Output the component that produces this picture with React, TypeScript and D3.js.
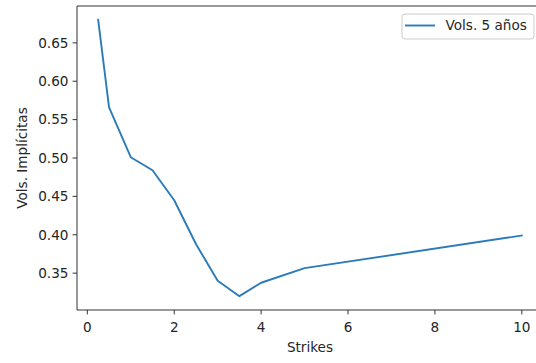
import React from "react";
import * as d3 from "d3";

const strikes = [0.25, 0.5, 1, 1.5, 2, 2.5, 3, 3.5, 4, 5, 10];
const vols = [0.68, 0.566, 0.501, 0.484, 0.445, 0.388, 0.34, 0.32, 0.3375, 0.3565, 0.399];
const xTicks = [0, 2, 4, 6, 8, 10];
const yTicks = [0.35, 0.4, 0.45, 0.5, 0.55, 0.6, 0.65];
const seriesName = "Vols. 5 años";
const xLabel = "Strikes";
const yLabel = "Vols. Implícitas";

export default function App() {
  const W = 536, H = 363;
  const left = 77, right = 543, top = 6, bottom = 310;
  const x = d3.scaleLinear().domain([-0.2375, 10.4875]).range([left, right]);
  const y = d3.scaleLinear().domain([0.302, 0.698]).range([bottom, top]);
  const line = d3.line<number>().x((_, i) => x(strikes[i])).y((d) => y(d));
  const font = "DejaVu Sans, sans-serif";
  const fs = 13.6;
  const txt = "#262626";
  return (
    <svg width={W} height={H} style={{ position: "absolute", left: 0, top: 0 }} fontFamily={font}>
      <rect x={0} y={0} width={W} height={H} fill="#fff" />
      <path d={line(vols) || ""} fill="none" stroke="#2b7bba" strokeWidth={1.9} strokeLinejoin="round" strokeLinecap="square" />
      {/* spines */}
      <line x1={left} x2={left} y1={top} y2={bottom} stroke="#333" strokeWidth={1} />
      <line x1={left} x2={right} y1={bottom} y2={bottom} stroke="#333" strokeWidth={1} />
      <line x1={left} x2={right} y1={top} y2={top} stroke="#333" strokeWidth={1} />
      <line x1={right} x2={right} y1={top} y2={bottom} stroke="#333" strokeWidth={1} />
      {xTicks.map((t) => (
        <g key={"x" + t}>
          <line x1={x(t)} x2={x(t)} y1={bottom} y2={bottom + 4.4} stroke="#333" strokeWidth={1} />
          <text x={x(t)} y={bottom + 21.5} textAnchor="middle" fontSize={fs} fill={txt}>{t}</text>
        </g>
      ))}
      {yTicks.map((t) => (
        <g key={"y" + t}>
          <line x1={left - 4.4} x2={left} y1={y(t)} y2={y(t)} stroke="#333" strokeWidth={1} />
          <text x={left - 8.5} y={y(t) + 4.8} textAnchor="end" fontSize={fs} fill={txt}>{t.toFixed(2)}</text>
        </g>
      ))}
      <text x={(left + right) / 2} y={351.5} textAnchor="middle" fontSize={fs} fill={txt}>{xLabel}</text>
      <text transform={`translate(27,${(top + bottom) / 2}) rotate(-90)`} textAnchor="middle" fontSize={fs} fill={txt}>{yLabel}</text>
      {/* legend */}
      <rect x={402} y={14} width={132} height={25} rx={3} fill="#fff" fillOpacity={0.8} stroke="#ccc" strokeWidth={1} />
      <line x1={405} x2={435} y1={25.5} y2={25.5} stroke="#2b7bba" strokeWidth={1.9} />
      <text x={445.5} y={30.4} fontSize={fs} fill={txt}>{seriesName}</text>
    </svg>
  );
}
